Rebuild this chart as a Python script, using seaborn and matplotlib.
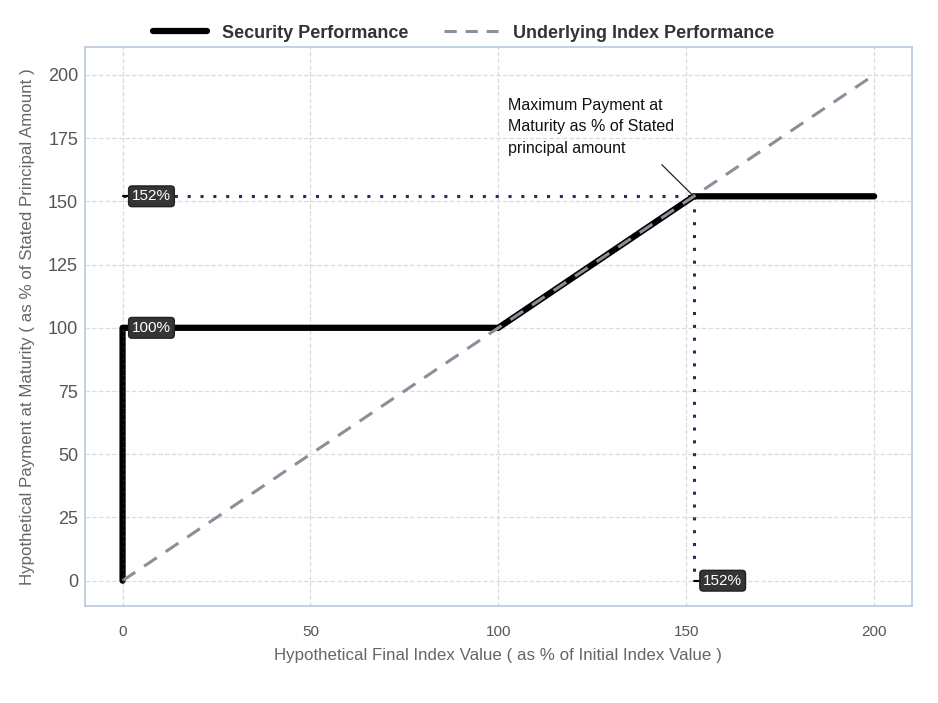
import numpy as np
import pandas as pd
import matplotlib
matplotlib.use("Agg")
import matplotlib.pyplot as plt
import seaborn as sns
from matplotlib.lines import Line2D

sns.set_theme(style="whitegrid")
plt.rcParams['font.family'] = ['Liberation Sans', 'DejaVu Sans']

# payoff data
final_index = [0, 0, 100, 152, 200]
security_pay = [0, 100, 100, 152, 152]
index_x = [0, 200]
index_y = [0, 200]
cap = 152
floor_pay = 100
x_ticks = [0, 50, 100, 150, 200]
y_ticks = [0, 25, 50, 75, 100, 125, 150, 175, 200]

df_sec = pd.DataFrame({'x': final_index, 'y': security_pay, 'series': 'Security Performance'})
df_idx = pd.DataFrame({'x': index_x, 'y': index_y, 'series': 'Underlying Index Performance'})

fig = plt.figure(figsize=(9.38, 7.03), dpi=100)
ax = fig.add_axes([0.0906, 0.138, 0.8814, 0.795])

navy = '#1c2f5e'
# dotted guides to the cap
ax.plot([0, cap], [cap, cap], linestyle=(0, (1, 3.2)), color=navy, linewidth=2.2, zorder=2)
ax.plot([cap, cap], [cap, 0], linestyle=(0, (1, 3.2)), color=navy, linewidth=2.2, zorder=2)

sns.lineplot(data=df_idx, x='x', y='y', ax=ax, color='#8d8d9b', linewidth=2.2,
             linestyle=(0, (5, 3.5)), sort=False, estimator=None, zorder=4, legend=False)
sns.lineplot(data=df_sec, x='x', y='y', ax=ax, color='black', linewidth=4.5,
             sort=False, estimator=None, zorder=3, legend=False)
ax.plot([0, 0], [0, floor_pay], linestyle=(0, (1, 3)), color=navy, linewidth=1, zorder=5)

ax.set_xlim(-10, 210)
ax.set_ylim(-10, 211)
ax.set_xticks(x_ticks)
ax.set_yticks(y_ticks)
ax.grid(True, linestyle='--', color='#dcdcdc', linewidth=0.9)
for s in ax.spines.values():
    s.set_color('#b9c9dc')
    s.set_linewidth(1.2)
ax.tick_params(axis='x', colors='#555555', labelsize=11, length=0, pad=14)
ax.tick_params(axis='y', colors='#555555', labelsize=13, length=0, pad=5)
for t in ax.get_xticklabels():
    t.set_fontstretch('condensed')
ax.set_xlabel('Hypothetical Final Index Value ( as % of Initial Index Value )', color='#666666', fontsize=12.2, labelpad=6)
ax.set_ylabel('Hypothetical Payment at Maturity ( as % of Stated Principal Amount )', color='#666666', fontsize=12.2, labelpad=9)

box = dict(boxstyle='round,pad=0.22', fc='#353535', ec='#222222')
# value labels with short leader ticks
ax.plot([0, 2.2], [cap, cap], color='black', linewidth=1.5, zorder=6)
ax.text(2.5, cap, '152%', color='white', fontsize=11, va='center', ha='left', bbox=box, zorder=7)
ax.text(2.5, floor_pay, '100%', color='white', fontsize=11, va='center', ha='left', bbox=box, zorder=7)
ax.plot([cap, cap + 2.2], [0, 0], color='black', linewidth=1.5, zorder=6)
ax.text(cap + 2.5, 0, '152%', color='white', fontsize=11, va='center', ha='left', bbox=box, zorder=7)

ax.text(102.5, 191, 'Maximum Payment at\nMaturity as % of Stated\nprincipal amount',
        fontsize=11.5, color='#111111', va='top', ha='left', linespacing=1.55)
ax.annotate('', xy=(cap, cap), xytext=(143.5, 164.5),
            arrowprops=dict(arrowstyle='-', color='#222222', linewidth=0.9, shrinkA=0, shrinkB=0))

handles = [Line2D([], [], color='black', linewidth=4.5),
           Line2D([], [], color='#8d8d9b', linewidth=2.2, linestyle=(0, (4, 2.9)))]
fig.legend(handles, ['Security Performance', 'Underlying Index Performance'], loc='center',
           bbox_to_anchor=(0.494, 0.953), ncol=2, frameon=False, handlelength=3.0,
           columnspacing=2.0, prop={'weight': 'bold', 'size': 13.0}, labelcolor='#333333')

fig.savefig('out.png', dpi=100)
